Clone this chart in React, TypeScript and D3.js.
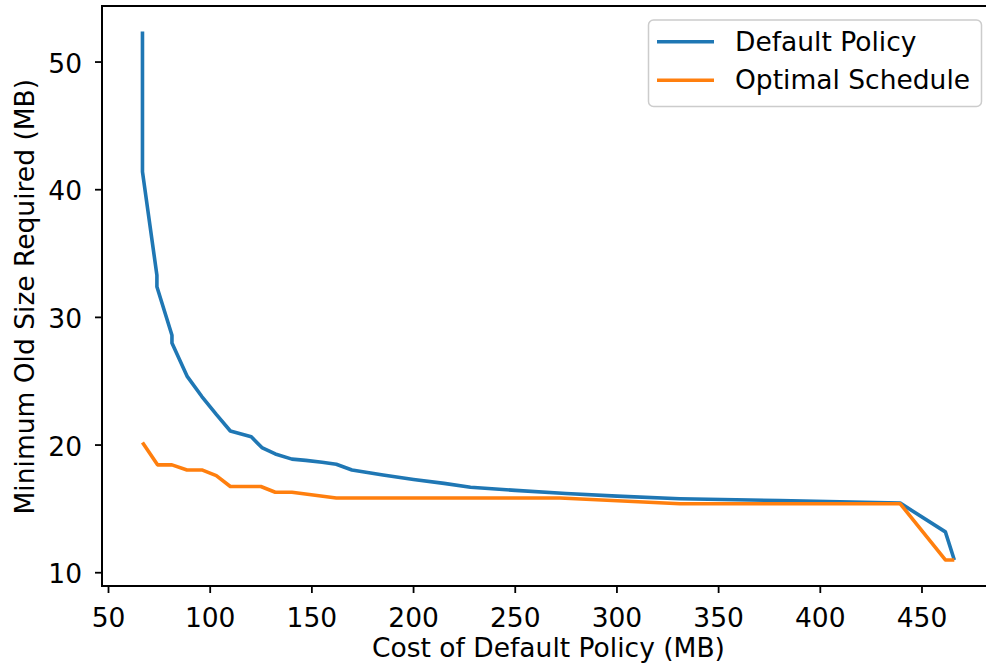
import React from "react";
import * as d3 from "d3";

const defaultX = [66.7, 66.7, 73.8, 73.8, 81.2, 81.2, 88.6, 95.9, 103.0, 109.9, 120.2, 125.4, 132.0, 140.2, 147.0, 155.0, 162.0, 169.7, 185.0, 200.0, 215.0, 228.0, 250.0, 275.0, 300.0, 331.0, 380.0, 439.3, 461.5, 465.9];
const defaultY = [52.4, 41.4, 33.3, 32.4, 28.6, 28.0, 25.4, 23.8, 22.4, 21.1, 20.65, 19.8, 19.3, 18.9, 18.8, 18.65, 18.5, 18.05, 17.65, 17.3, 17.0, 16.7, 16.45, 16.2, 16.0, 15.8, 15.65, 15.45, 13.2, 11.0];

const optimalX = [66.7, 74.1, 81.2, 88.6, 95.9, 103.0, 109.9, 117.5, 124.9, 132.0, 140.2, 162.0, 272.0, 331.0, 439.3, 461.5, 465.9];
const optimalY = [20.2, 18.45, 18.45, 18.05, 18.05, 17.6, 16.75, 16.75, 16.75, 16.3, 16.3, 15.85, 15.85, 15.4, 15.4, 11.0, 11.0];

const xTicks = [50, 100, 150, 200, 250, 300, 350, 400, 450];
const yTicks = [10, 20, 30, 40, 50];

const seriesNames = ["Default Policy", "Optimal Schedule"];
const seriesColors = ["#1f77b4", "#ff7f0e"];

const W = 986;
const H = 672;
const L = 102, R = 995, T = 6, B = 586;
const FONT = "'DejaVu Sans', sans-serif";

export default function App() {
  const x = d3.scaleLinear().domain([46.8, 485.9]).range([L, R]);
  const y = d3.scaleLinear().domain([8.96, 54.39]).range([B, T]);
  const line = d3
    .line<[number, number]>()
    .x((d) => x(d[0]))
    .y((d) => y(d[1]));

  const series = [
    defaultX.map((v, i) => [v, defaultY[i]] as [number, number]),
    optimalX.map((v, i) => [v, optimalY[i]] as [number, number]),
  ];

  const fs = 26.5;

  return (
    <svg
      width={W}
      height={H}
      style={{ position: "absolute", left: 0, top: 0, background: "#fff" }}
      fontFamily={FONT}
    >
      <rect x={0} y={0} width={W} height={H} fill="#fff" />
      {series.map((s, i) => (
        <path
          key={i}
          d={line(s) || ""}
          fill="none"
          stroke={seriesColors[i]}
          strokeWidth={3.6}
          strokeLinejoin="round"
          strokeLinecap="butt"
        />
      ))}
      {/* spines */}
      <rect x={L} y={T} width={R - L} height={B - T} fill="none" stroke="#000" strokeWidth={2} />
      {xTicks.map((t) => (
        <g key={t}>
          <line x1={x(t)} x2={x(t)} y1={B} y2={B + 7} stroke="#000" strokeWidth={1.8} />
          <text x={x(t)} y={627} textAnchor="middle" fontSize={fs} fill="#000">
            {t}
          </text>
        </g>
      ))}
      {yTicks.map((t) => (
        <g key={t}>
          <line x1={L - 7} x2={L} y1={y(t)} y2={y(t)} stroke="#000" strokeWidth={1.8} />
          <text x={82} y={y(t)} dy="0.4em" textAnchor="end" fontSize={fs} fill="#000">
            {t}
          </text>
        </g>
      ))}
      <text x={(L + R) / 2} y={657} textAnchor="middle" fontSize={fs} fill="#000">
        Cost of Default Policy (MB)
      </text>
      <text
        transform={`translate(33.5, 296.7) rotate(-90)`}
        textAnchor="middle"
        fontSize={fs}
        fill="#000"
      >
        Minimum Old Size Required (MB)
      </text>
      {/* legend */}
      <rect x={648.5} y={20} width={333} height={86.5} rx={5} fill="#fff" fillOpacity={0.8} stroke="#cccccc" strokeWidth={1.5} />
      {seriesNames.map((n, i) => (
        <g key={n}>
          <line x1={657} x2={714} y1={41.7 + i * 38.5} y2={41.7 + i * 38.5} stroke={seriesColors[i]} strokeWidth={3.6} />
          <text x={735} y={41.7 + i * 38.5} dy="0.34em" fontSize={fs} fill="#000">
            {n}
          </text>
        </g>
      ))}
    </svg>
  );
}
